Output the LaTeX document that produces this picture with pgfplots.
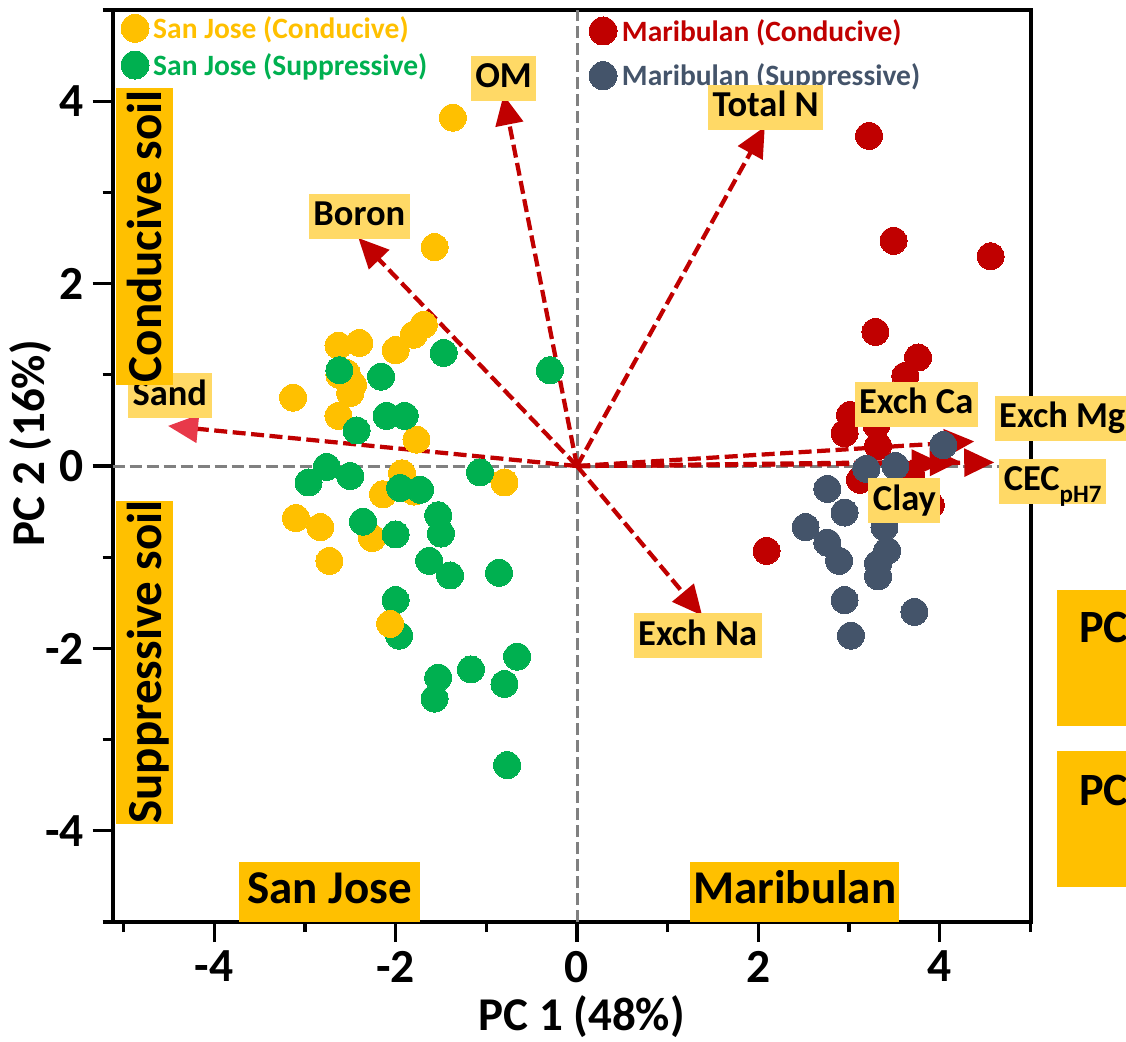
\documentclass[border=0pt]{standalone}
\usepackage{fontspec}
\setmainfont{Carlito}
\usepackage{pgfplots}
\pgfplotsset{compat=1.18}
\usetikzlibrary{arrows.meta}

\definecolor{cyel}{HTML}{FFC000}
\definecolor{cgrn}{HTML}{00B050}
\definecolor{cred}{HTML}{C00000}
\definecolor{cslt}{HTML}{44546A}
\definecolor{lbl}{HTML}{FFD966}
\definecolor{sandhead}{HTML}{E8394A}
\definecolor{cgray}{HTML}{808080}

\tikzset{
  vlab/.style={fill=lbl, font=\bfseries\fontsize{14.6}{16}\selectfont, inner xsep=1.8pt, inner ysep=2.25pt, text height=10.5pt, text depth=3pt},
  blab/.style={fill=cyel, font=\bfseries\fontsize{18.8}{20}\selectfont, inner xsep=0pt, inner ysep=3pt, text height=13.5pt, text depth=4.5pt},
  rlab/.style={fill=cyel, font=\bfseries\fontsize{19.6}{21}\selectfont, rotate=90, inner sep=0pt, text height=14pt, text depth=0pt, minimum height=22.8pt},
  vec/.style={cred, line width=1.7pt, dash pattern=on 5.2pt off 2.2pt, -{Triangle[length=12pt,width=11pt]}},
  leg/.style={anchor=west, inner sep=0pt, font=\bfseries\fontsize{11.8}{13}\selectfont},
}

\begin{document}
\begin{tikzpicture}
\begin{axis}[
  x=36.28pt, y=36.48pt,
  xmin=-5.12, xmax=5, ymin=-5, ymax=5,
  axis line style={line width=1.6pt},
  xtick={-4,-2,0,2,4}, ytick={-4,-2,0,2,4},
  minor xtick={-5,-3,-1,1,3,5}, minor ytick={-5,-3,-1,1,3,5},
  xtick pos=bottom, ytick pos=left,
  tick align=outside, major tick length=8pt, minor tick length=4pt,
  tick style={line width=1.3pt, black},
  ticklabel style={font=\bfseries\fontsize{19}{20}\selectfont},
  /pgf/number format/assume math mode=true,
  xlabel={PC 1 (48\%)}, ylabel={PC 2 (16\%)},
  label style={font=\bfseries\fontsize{18.8}{20}\selectfont},
  xlabel style={at={(axis description cs:0.511,-0.104)}, anchor=center},
  ylabel style={at={(axis description cs:-0.0896,0.525)}, anchor=center},
  clip=false,
]
% San Jose (Conducive)
\addplot[only marks, mark=*, mark size=5.4pt, mark options={fill=cyel, draw=cyel, line width=0pt}] coordinates {
(-1.37,3.82) (-1.57,2.40) (-2.63,1.32) (-2.40,1.35) (-2.00,1.27) (-1.80,1.44) (-1.69,1.55)
(-2.62,1.00) (-2.54,1.02) (-2.47,0.89) (-2.50,0.80) (-3.13,0.75) (-2.63,0.55) (-1.77,0.29)
(-1.93,-0.08) (-2.14,-0.31) (-1.80,-0.28) (-0.80,-0.18) (-3.10,-0.57) (-2.83,-0.67)
(-2.26,-0.79) (-2.73,-1.04) };
% San Jose (Suppressive)
\addplot[only marks, mark=*, mark size=5.4pt, mark options={fill=cgrn, draw=cgrn, line width=0pt}] coordinates {
(-1.47,1.24) (-0.30,1.05) (-2.62,1.05) (-2.16,0.98) (-2.10,0.55) (-1.90,0.55) (-2.43,0.39)
(-2.76,-0.01) (-2.96,-0.18) (-2.50,-0.11) (-1.07,-0.07) (-1.95,-0.24) (-1.73,-0.26)
(-2.36,-0.61) (-1.53,-0.54) (-1.50,-0.74) (-2.00,-0.75) (-1.63,-1.04) (-1.40,-1.20)
(-0.86,-1.17) (-2.00,-1.47) (-1.96,-1.86) (-1.53,-2.32) (-1.57,-2.55) (-1.17,-2.23)
(-0.66,-2.09) (-0.80,-2.39) (-0.77,-3.28) };
\addplot[only marks, mark=*, mark size=5.4pt, mark options={fill=cyel, draw=cyel, line width=0pt}] coordinates {
(-2.06,-1.73) };
% Maribulan (Conducive)
\addplot[only marks, mark=*, mark size=5.4pt, mark options={fill=cred, draw=cred, line width=0pt}] coordinates {
(3.22,3.62) (3.49,2.47) (4.56,2.30) (3.29,1.47) (3.76,1.19) (3.62,0.99) (3.01,0.56)
(2.95,0.36) (3.32,0.22) (3.30,0.45) (3.12,-0.15) (3.68,-0.10) (3.90,-0.43) (2.09,-0.93) };
% Maribulan (Suppressive)
\addplot[only marks, mark=*, mark size=5.4pt, mark options={fill=cslt, draw=cslt, line width=0pt}] coordinates {
(2.76,-0.25) (3.19,-0.03) (3.51,0.00) (2.95,-0.51) (2.52,-0.67) (2.76,-0.84) (2.89,-1.04)
(3.39,-0.67) (3.42,-0.93) (3.32,-1.07) (3.32,-1.21) (2.95,-1.47) (3.72,-1.60) (3.02,-1.86)
(4.04,0.23) };

% zero lines
\addplot[cgray, line width=1.2pt, dash pattern=on 4.8pt off 2pt] coordinates {(0,-5) (0,5)};
\addplot[cgray, line width=1.2pt, dash pattern=on 4.8pt off 2pt] coordinates {(-5.12,0) (5,0)};

% loading vectors
\addplot[vec] coordinates {(0,0) (-0.81,4.07)};
\addplot[vec] coordinates {(0,0) (-2.41,2.50)};
\addplot[cred, line width=1.7pt, dash pattern=on 5.2pt off 2.2pt, -{Triangle[length=12pt,width=11pt,color=sandhead]}] coordinates {(0,0) (-4.51,0.44)};
\addplot[vec] coordinates {(0,0) (2.07,3.72)};
\addplot[vec] coordinates {(0,0) (4.38,0.27)};
\addplot[vec] coordinates {(0,0) (4.60,0.04)};
\addplot[vec] coordinates {(0,0) (4.22,0.05)};
\addplot[vec] coordinates {(0,0) (4.02,0.03)};
\addplot[vec] coordinates {(0,0) (1.38,-1.64)};

% legend markers
\addplot[only marks, mark=*, mark size=5.6pt, mark options={fill=cyel, draw=cyel, line width=0pt}] coordinates {(-4.873,4.80)};
\addplot[only marks, mark=*, mark size=5.6pt, mark options={fill=cgrn, draw=cgrn, line width=0pt}] coordinates {(-4.873,4.397)};
\addplot[only marks, mark=*, mark size=5.6pt, mark options={fill=cred, draw=cred, line width=0pt}] coordinates {(0.287,4.77)};
\addplot[only marks, mark=*, mark size=5.6pt, mark options={fill=cslt, draw=cslt, line width=0pt}] coordinates {(0.287,4.28)};

% anchor coordinates for labels (drawn after the axis, on top)
\coordinate (lg1) at (axis cs:-4.678,4.78);
\coordinate (lg2) at (axis cs:-4.678,4.378);
\coordinate (lg3) at (axis cs:0.49,4.75);
\coordinate (lg4) at (axis cs:0.49,4.27);
\coordinate (cOM) at (axis cs:-0.81,4.25);
\coordinate (cBoron) at (axis cs:-2.40,2.74);
\coordinate (cSand) at (axis cs:-4.49,0.77);
\coordinate (cTN) at (axis cs:2.08,3.93);
\coordinate (cCa) at (axis cs:3.74,0.68);
\coordinate (cMg) at (axis cs:4.60,0.52);
\coordinate (cCEC) at (axis cs:4.65,-0.17);
\coordinate (cClay) at (axis cs:3.61,-0.38);
\coordinate (cNa) at (axis cs:1.33,-1.86);
\coordinate (cSJ) at (axis cs:-2.73,-4.67);
\coordinate (cMB) at (axis cs:2.40,-4.67);
\coordinate (cCond) at (axis cs:-4.77,2.52);
\coordinate (cSupp) at (axis cs:-4.77,-2.15);
\coordinate (b1sw) at (axis cs:5.29,-2.85);
\coordinate (b1ne) at (axis cs:6.5,-1.36);
\coordinate (b2sw) at (axis cs:5.29,-4.616);
\coordinate (b2ne) at (axis cs:6.5,-3.125);
\coordinate (pc1) at (axis cs:5.53,-1.94);
\coordinate (pc2) at (axis cs:5.53,-3.72);
\coordinate (bbsw) at (axis cs:-6.362,-6.305);
\coordinate (bbne) at (axis cs:6.053,5.110);
\end{axis}

\node[leg, text=cyel] at (lg1) {San Jose (Conducive)};
\node[leg, text=cgrn] at (lg2) {San Jose (Suppressive)};
\node[leg, text=cred] at (lg3) {Maribulan (Conducive)};
\node[leg, text=cslt] at (lg4) {Maribulan (Suppressive)};

\node[vlab] at (cOM) {OM};
\node[vlab] at (cBoron) {Boron};
\node[vlab] at (cSand) {Sand};
\node[vlab] at (cTN) {Total N};
\node[vlab] at (cCa) {Exch Ca};
\node[vlab, anchor=west] at (cMg) {Exch Mg};
\node[vlab, anchor=west] at (cCEC) {CEC\raisebox{-0.32em}{\fontsize{10}{10}\selectfont pH7}};
\node[vlab] at (cClay) {Clay};
\node[vlab] at (cNa) {Exch Na};

\node[blab, minimum width=72.4pt] at (cSJ) {San Jose};
\node[blab, minimum width=83.6pt] at (cMB) {Maribulan};
\node[rlab, minimum width=118.8pt] at (cCond) {Conducive soil};
\node[rlab, minimum width=127.6pt] at (cSupp) {Suppressive soil};

\fill[cyel] (b1sw) rectangle (b1ne);
\fill[cyel] (b2sw) rectangle (b2ne);
\node[anchor=base west, inner sep=0pt, font=\bfseries\fontsize{18.5}{20}\selectfont] at (pc1) {PC};
\node[anchor=base west, inner sep=0pt, font=\bfseries\fontsize{18.5}{20}\selectfont] at (pc2) {PC};

\pgfresetboundingbox
\path[use as bounding box] (bbsw) rectangle (bbne);
\end{tikzpicture}
\end{document}
